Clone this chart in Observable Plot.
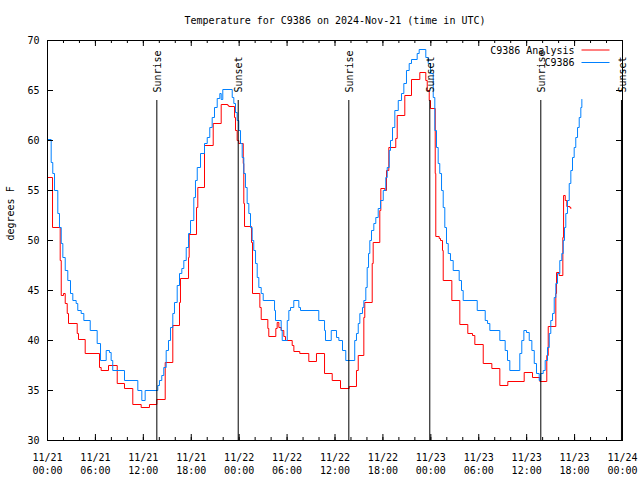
<!DOCTYPE html>
<html><head><meta charset="utf-8">
<script src="https://cdn.jsdelivr.net/npm/d3@7"></script>
<script src="https://cdn.jsdelivr.net/npm/@observablehq/plot@0.6"></script>
<style>body{margin:0;background:#fff}</style>
</head><body><div id="chart"></div>
<script>
const title = "Temperature for C9386 on 2024-Nov-21 (time in UTC)";
const yLabel = "degrees F";
const seriesNames = ["C9386 Analysis", "C9386"];
const seriesColors = ["#ff0000", "#0080ff"];
const startUTC = Date.UTC(2024, 10, 21);
const xTickHours = [0, 6, 12, 18, 24, 30, 36, 42, 48, 54, 60, 66, 72];
const xTickLabels = ["11/21\n00:00", "11/21\n06:00", "11/21\n12:00", "11/21\n18:00",
  "11/22\n00:00", "11/22\n06:00", "11/22\n12:00", "11/22\n18:00",
  "11/23\n00:00", "11/23\n06:00", "11/23\n12:00", "11/23\n18:00", "11/24\n00:00"];
const xMinorHours = [0,2,4,6,8,10,12,14,16,18,20,22,24,26,28,30,32,34,36,38,40,42,44,46,48,50,52,54,56,58,60,62,64,66,68,70,72];
const yTicks = [30, 35, 40, 45, 50, 55, 60, 65, 70];
const sunEventHours = [13.69, 23.88, 37.73, 47.87, 61.77, 71.87];
const sunEventNames = ["Sunrise", "Sunset", "Sunrise", "Sunset", "Sunrise", "Sunset"];

// C9386 Analysis (red)
const analysisHours = [0.00,0.63,1.59,1.72,2.00,2.22,2.47,2.63,3.72,3.88,4.72,6.51,6.72,7.64,8.73,9.64,10.68,11.73,12.77,13.69,
  14.74,15.69,16.53,16.65,17.66,17.74,18.66,18.82,19.66,20.75,21.75,22.58,22.70,23.42,23.54,23.75,23.95,24.51,24.58,24.67,
  25.55,25.67,26.59,26.76,27.59,27.71,28.59,28.76,28.97,29.26,29.59,29.80,30.64,30.85,31.59,32.72,33.68,34.69,35.65,36.69,
  37.78,38.69,38.91,39.61,39.73,40.66,40.78,41.61,41.74,42.24,42.45,42.74,43.61,43.79,44.74,45.58,46.62,47.37,47.55,47.80,
  47.96,48.55,48.62,49.05,49.21,49.46,49.55,50.63,51.63,52.63,53.22,53.51,54.56,55.64,56.64,57.64,59.69,60.73,61.65,62.52,
  62.70,63.65,63.74,64.07,64.53,64.62,64.83,65.03,65.41,65.53];
const analysisTemps = [56.3,51.3,48.0,44.5,44.7,43.7,42.7,41.7,40.7,40.1,38.7,37.3,37.0,37.5,35.7,35.2,33.6,33.3,33.6,34.1,
  37.8,41.5,43.8,46.2,48.3,50.6,53.3,55.3,59.5,61.7,63.6,63.5,63.4,62.3,61.0,60.0,59.7,57.7,53.7,51.4,
  49.8,44.7,43.3,42.1,41.2,40.4,41.2,41.8,41.3,41.0,40.4,40.0,39.5,38.9,38.7,37.9,38.7,36.7,36.0,35.2,
  35.4,37.0,38.5,42.3,43.8,47.7,49.8,53.0,55.2,55.0,57.0,59.3,60.2,62.5,64.5,66.1,66.8,66.0,65.0,64.0,
  63.2,56.7,50.4,50.2,50.0,49.0,46.0,44.0,41.6,40.7,40.5,39.6,37.7,37.2,35.5,35.9,36.8,36.3,35.9,38.5,
  41.4,44.7,46.8,46.5,50.3,54.5,54.0,53.4,53.3,53.2];

// C9386 observations (blue)
const obsHours = [0.00,0.46,0.66,0.88,1.29,1.50,1.72,1.92,2.22,2.54,2.88,3.17,3.59,3.79,4.22,4.55,5.35,6.22,6.64,7.35,
  7.76,7.97,8.17,9.64,11.31,11.81,12.23,13.81,14.02,14.31,14.56,14.86,15.15,15.40,15.69,15.90,16.24,16.53,16.82,17.07,
  17.37,17.66,17.91,18.32,18.53,18.75,19.16,19.66,20.00,20.32,20.62,20.91,21.25,21.58,21.75,21.95,23.13,23.33,23.54,23.75,
  23.95,24.17,24.38,24.58,24.79,25.00,25.21,25.42,25.63,25.83,26.05,26.26,26.46,26.76,27.01,28.43,28.55,29.26,29.39,30.02,
  30.22,30.43,30.84,31.47,31.68,33.97,34.69,34.81,35.53,36.19,36.48,36.94,37.35,38.47,38.69,38.91,39.11,39.44,39.61,39.86,
  40.03,40.20,40.36,40.57,40.86,41.11,41.41,41.70,42.04,42.36,42.54,42.79,42.95,43.20,43.49,43.92,44.33,44.62,44.95,45.29,
  45.58,46.29,46.54,47.37,47.67,47.96,48.30,48.50,48.71,48.92,49.12,49.34,49.55,49.75,49.96,50.18,50.46,50.80,51.55,51.84,
  52.05,53.81,54.81,55.10,55.39,56.64,57.31,57.60,57.89,59.14,59.39,59.65,59.98,60.32,60.65,60.95,61.23,61.57,61.77,62.07,
  62.32,62.61,62.83,63.02,63.24,63.45,63.65,63.86,64.15,64.40,64.58,64.74,64.90,65.11,65.33,65.53,65.74,65.95,66.15,66.37,
  66.58,66.78,66.91];
const obsTemps = [60.1,57.8,56.7,55.0,52.7,51.3,49.7,48.3,47.0,46.0,44.7,44.0,43.7,43.0,42.7,42.0,41.0,39.7,38.0,39.0,
  38.8,38.0,37.0,36.0,35.0,34.0,35.0,35.5,36.0,36.5,37.3,39.0,40.0,41.3,42.7,43.8,45.5,46.7,47.2,48.0,
  49.3,50.7,52.0,54.3,56.0,57.3,58.7,59.7,60.3,61.3,62.3,63.3,64.2,64.7,64.1,65.1,64.3,63.7,62.8,62.0,
  61.0,59.7,58.3,56.7,55.3,53.7,52.7,51.3,50.0,49.0,47.7,46.3,45.3,44.7,44.0,43.0,42.0,41.0,40.0,42.0,
  43.0,43.3,44.0,43.3,43.0,42.0,41.0,40.0,41.0,40.3,40.0,39.0,38.0,40.0,40.7,41.7,42.7,43.3,44.0,45.3,
  47.3,48.7,50.0,51.0,51.7,52.3,53.2,54.0,55.0,56.3,57.3,59.0,60.0,61.3,63.0,64.0,64.7,65.7,67.0,67.7,
  68.1,68.7,69.1,68.3,67.7,66.7,64.3,61.0,59.3,57.7,56.7,55.0,53.3,51.3,49.7,48.7,48.0,47.0,46.0,45.0,
  44.0,43.0,42.0,41.7,41.0,40.0,39.0,38.0,37.0,38.7,40.0,41.0,40.8,40.0,39.0,37.7,36.7,36.0,36.7,37.0,
  38.0,39.3,40.7,42.0,42.7,44.3,45.7,46.7,48.0,48.7,50.0,51.3,52.7,54.0,55.7,57.0,58.3,59.3,60.3,61.3,
  62.3,63.3,64.1];

const toDate = h => new Date(startUTC + h * 3600e3);
const analysis = analysisHours.map((h, i) => ({t: toDate(h), v: analysisTemps[i]}));
const obs = obsHours.map((h, i) => ({t: toDate(h), v: obsTemps[i]}));
const majorTicks = xTickHours.map((h, i) => ({t: toDate(h), label: xTickLabels[i]}));
const minorTicks = xMinorHours.map(h => ({t: toDate(h)}));
const sunEvents = sunEventHours.map((h, i) => ({t: toDate(h), name: sunEventNames[i]}));

const W = 640, H = 480, mL = 47, mR = 18, mT = 40, mB = 40;
const fw = W - mL - mR, fh = H - mT - mB;

const plot = Plot.plot({
  width: W, height: H, marginLeft: mL, marginRight: mR, marginTop: mT, marginBottom: mB,
  style: {fontFamily: "DejaVu Sans Mono", fontSize: "10px", color: "#000", background: "#fff"},
  x: {type: "utc", domain: [toDate(0), toDate(72)], axis: null},
  y: {domain: [30, 70], axis: null},
  marks: [
    Plot.line(analysis, {x: "t", y: "v", curve: "step-after", stroke: seriesColors[0], strokeWidth: 1}),
    Plot.line(obs, {x: "t", y: "v", curve: "step-after", stroke: seriesColors[1], strokeWidth: 1}),
    Plot.ruleX(sunEvents, {x: "t", insetTop: 60, stroke: "#000"}),
    Plot.text(sunEvents, {x: "t", text: "name", frameAnchor: "top", lineAnchor: "middle", dy: 52, dx: 1, rotate: -90, textAnchor: "start"}),
    Plot.ruleX(majorTicks, {x: "t", insetTop: fh - 6, stroke: "#000"}),
    Plot.ruleX(majorTicks, {x: "t", insetBottom: fh - 6, stroke: "#000"}),
    Plot.ruleX(minorTicks, {x: "t", insetTop: fh - 3, stroke: "#000"}),
    Plot.ruleX(minorTicks, {x: "t", insetBottom: fh - 3, stroke: "#000"}),
    Plot.ruleY(yTicks, {insetRight: fw - 6, stroke: "#000"}),
    Plot.ruleY(yTicks, {insetLeft: fw - 6, stroke: "#000"}),
    Plot.text(majorTicks, {x: "t", text: "label", frameAnchor: "bottom", lineAnchor: "top", dy: 10.5, lineHeight: 1.35}),
    Plot.text(yTicks, {y: d => d, text: d => String(d), frameAnchor: "left", lineAnchor: "middle", textAnchor: "end", dx: -8}),
    Plot.text([yLabel], {frameAnchor: "left", lineAnchor: "middle", rotate: -90, dx: -37}),
    Plot.text([title], {frameAnchor: "top", lineAnchor: "middle", dy: -20}),
    Plot.text([seriesNames[0]], {frameAnchor: "top-right", lineAnchor: "middle", textAnchor: "end", dx: -48, dy: 10}),
    Plot.text([seriesNames[1]], {frameAnchor: "top-right", lineAnchor: "middle", textAnchor: "end", dx: -48, dy: 22.5}),
    Plot.frame({stroke: "#000"})
  ]
});

// legend swatches
const svg = d3.select(plot);
[0, 1].forEach(i => {
  const y = mT + (i === 0 ? 10 : 22.5);
  svg.append("line")
    .attr("x1", W - mR - 40.5).attr("x2", W - mR - 12.5)
    .attr("y1", y).attr("y2", y)
    .attr("stroke", seriesColors[i]).attr("stroke-width", 1);
});
document.getElementById("chart").appendChild(plot);
</script>
</body></html>
